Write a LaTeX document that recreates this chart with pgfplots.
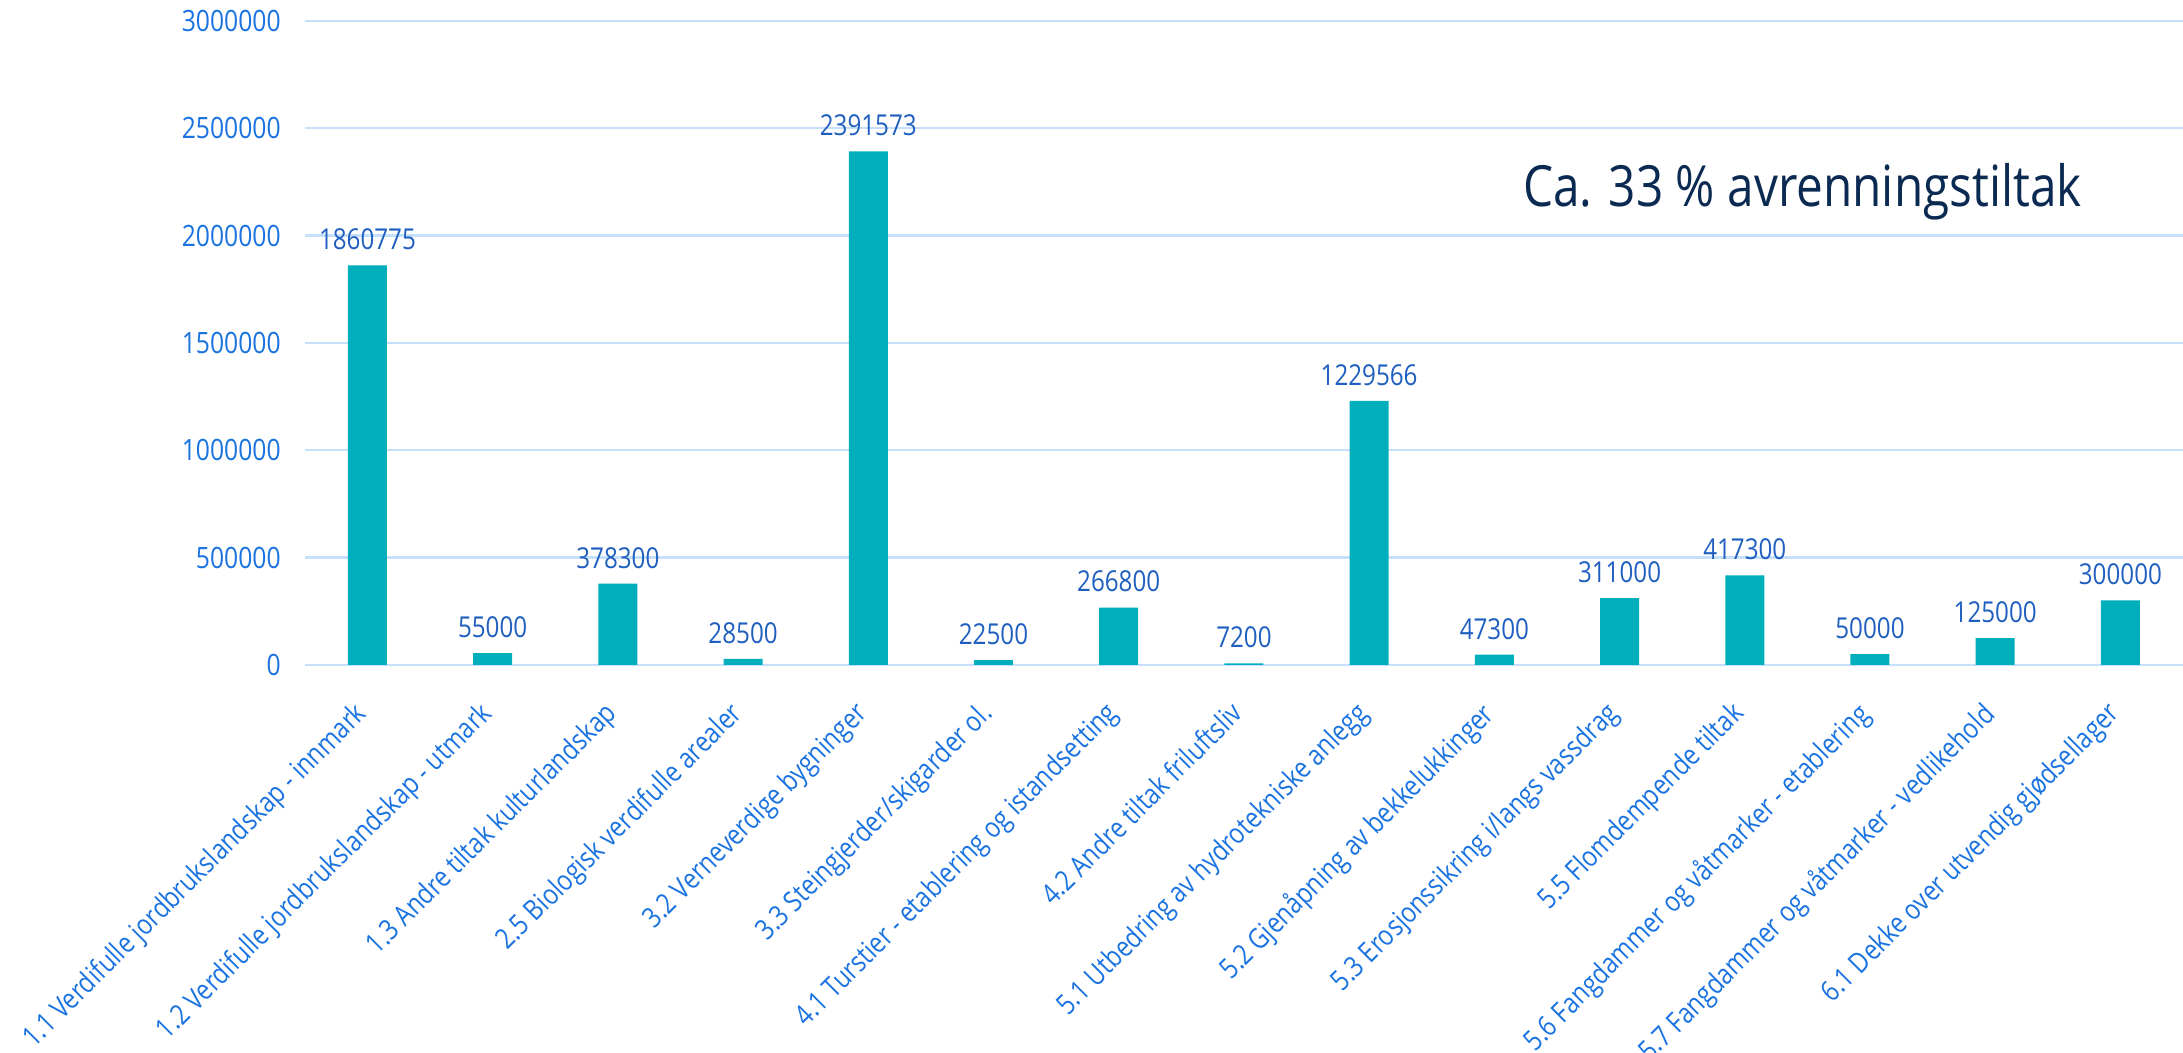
\documentclass[border=0pt]{standalone}
\usepackage{fontspec}
\setmainfont{Open Sans}[FakeStretch=0.84]
\usepackage{pgfplots}
\pgfplotsset{compat=1.18}

\definecolor{barteal}{HTML}{00AEBC}
\definecolor{gridblue}{HTML}{C6DFFA}
\definecolor{tickblue}{HTML}{1A73E0}
\definecolor{valblue}{HTML}{1F5FBF}
\definecolor{navy}{HTML}{0B2A52}

\begin{document}
\begin{tikzpicture}
\begin{axis}[
    scale only axis,
    width=469.5pt,
    height=161pt,
    ybar,
    bar width=9.75pt,
    xmin=-0.5, xmax=14.5,
    ymin=0, ymax=3000000,
    ytick={0,500000,...,3000000},
    xtick=data,
    xticklabels={
      1.1 Verdifulle jordbrukslandskap - innmark,
      1.2 Verdifulle jordbrukslandskap - utmark,
      1.3 Andre tiltak kulturlandskap,
      2.5 Biologisk verdifulle arealer,
      3.2 Verneverdige bygninger,
      3.3 Steingjerder/skigarder ol.,
      4.1 Turstier - etablering og istandsetting,
      4.2 Andre tiltak friluftsliv,
      5.1 Utbedring av hydrotekniske anlegg,
      5.2 Gjenåpning av bekkelukkinger,
      5.3 Erosjonssikring i/langs vassdrag,
      5.5 Flomdempende tiltak,
      5.6 Fangdammer og våtmarker - etablering,
      5.7 Fangdammer og våtmarker - vedlikehold,
      6.1 Dekke over utvendig gjødsellager},
    xticklabel style={rotate=45, anchor=north east, font=\fontsize{7.1pt}{8pt}\selectfont, text=tickblue, xshift=-5.3pt, yshift=0pt},
    yticklabel style={font=\fontsize{7.35pt}{8pt}\selectfont, text=tickblue, xshift=-2.5pt},
    /pgf/number format/assume math mode=true,
    scaled y ticks=false,
    yticklabel={\pgfmathprintnumber[fixed,precision=0,1000 sep={}]{\tick}},
    axis line style={draw=none},
    major tick length=0pt,
    ymajorgrids,
    grid style={gridblue, line width=0.6pt},
    nodes near coords={\pgfmathprintnumber[fixed,precision=0,1000 sep={},assume math mode=true]{\pgfplotspointmeta}},
    nodes near coords style={font=\fontsize{7.2pt}{8pt}\selectfont, text=valblue, yshift=0.3pt},
    clip=false,
]
\addplot[fill=barteal, draw=none] coordinates {
  (0,1860775) (1,55000) (2,378300) (3,28500) (4,2391573)
  (5,22500) (6,266800) (7,7200) (8,1229566) (9,47300)
  (10,311000) (11,417300) (12,50000) (13,125000) (14,300000)};
\node[text=navy, font=\fontsize{14.2pt}{16pt}\selectfont] at (axis cs:11.46,2203000) {Ca. 33 \% avrenningstiltak};
\end{axis}
\pgfresetboundingbox
\path ([xshift=-76.2pt,yshift=-97pt]current axis.south west) rectangle ([yshift=5.2pt]current axis.north east);
\end{tikzpicture}
\end{document}
